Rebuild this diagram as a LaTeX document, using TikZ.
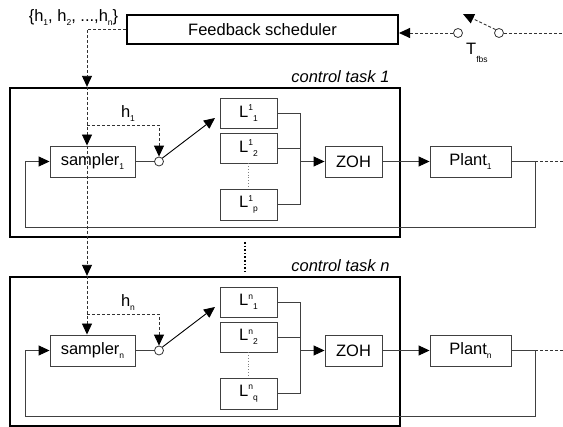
\documentclass[tikz,border=0pt]{standalone}
\usepackage{fontspec}
\setmainfont{Liberation Sans}
\usetikzlibrary{arrows.meta,calc}
\newcommand\lsub[1]{\raisebox{-4pt}{\fontsize{8.5}{8.5}\selectfont #1}}
\newcommand\Lbl[2]{L\raisebox{6.5pt}{\fontsize{8.5}{8.5}\selectfont #1}\raisebox{-4pt}{\fontsize{8.5}{8.5}\selectfont #2}}
\begin{document}
\begin{tikzpicture}[x=1pt,y=-1pt, font=\fontsize{16.5}{19}\selectfont,
  blk/.style={draw=black!75, line width=0.9pt, inner sep=0pt, minimum height=30pt},
  task/.style={draw=black, line width=2.3pt, inner sep=0pt},
  ln/.style={draw=black!75, line width=0.9pt},
  dsh/.style={draw=black!80, line width=0.9pt, dash pattern=on 3pt off 2pt},
  arr/.style={-{Triangle[length=11pt,width=10pt,color=black]}},
  sw/.style={circle, draw=black!80, line width=0.8pt, fill=white, minimum size=9pt, inner sep=0pt}]
\useasboundingbox (0,0) rectangle (563,427);

% scheduler
\node[draw, line width=2pt, minimum width=271pt, minimum height=29pt, inner sep=0pt] (fs) at (262.5,29.5) {Feedback scheduler};
\node (hs) at (73.5,18) {\{h\lsub{1}, h\lsub{2}, ...,h\lsub{n}\}};

% task boxes
\node[task, minimum width=390pt, minimum height=149pt] (t1) at (205,162.5) {};
\node[task, minimum width=390pt, minimum height=149pt] (tn) at (205,351.5) {};

\foreach \k/\dy/\lab/\last in {1/0/1/p, n/189/n/q} {
  \node[anchor=base east, font=\fontsize{16.5}{19}\selectfont\itshape] (ct\k) at (393,{83+\dy}) {control task \lab};
  \node[blk, minimum width=85pt, minimum height=31pt] (s\k) at (92.5,{161.5+\dy}) {sampler\lsub{\lab}};
  \node[blk, minimum width=57pt] (La\k) at (248.5,{113+\dy}) {\Lbl{\lab}{1}};
  \node[blk, minimum width=57pt] (Lb\k) at (248.5,{148+\dy}) {\Lbl{\lab}{2}};
  \node[blk, minimum width=57pt, minimum height=31pt] (Lc\k) at (248.5,{204.5+\dy}) {\Lbl{\lab}{\last}};
  \node[blk, minimum width=57pt, minimum height=31pt] (z\k) at (353.5,{161.5+\dy}) {ZOH};
  \node[blk, minimum width=81pt, minimum height=31pt] (p\k) at (470.5,{161.5+\dy}) {Plant\lsub{\lab}};
  \node (h\k) at (128,{114+\dy}) {h\lsub{\lab}};
  \coordinate (bus\k) at (300,{161.5+\dy});
  \coordinate (o\k) at (535,{161.5+\dy});
  \coordinate (e\k) at (563,{161.5+\dy});
  \coordinate (fb\k) at (25,{227+\dy});
  \coordinate (a\k) at (215,{118+\dy});
  \coordinate (br\k) at (87,{125+\dy});
  \draw[ln] (s\k.east) -- (159,{161.5+\dy});
  \node[sw] (c\k) at (159,{161.5+\dy}) {};
  \draw[ln, draw=black, arr] (c\k.north east) -- (a\k);
  \draw[ln] (La\k.east) -| (Lc\k.east -| bus\k) -- (Lc\k.east);
  \draw[ln] (Lb\k.east) -- (Lb\k.east -| bus\k);
  \draw[dotted, draw=gray, line width=0.8pt] (Lb\k.south) -- (Lc\k.north);
  \draw[ln, arr] (bus\k) -- (z\k.west);
  \draw[ln, arr] (z\k.east) -- (p\k.west);
  \draw[ln] (p\k.east) -- (o\k);
  \draw[dsh] (o\k) -- (e\k);
  \draw[ln, arr] (o\k) |- (fb\k) |- (s\k.west);
  \draw[dsh, arr] (br\k) -| (c\k.north);
}

% main dashed distribution line
\coordinate (dx) at (87,0);
\draw[dsh, arr] (fs.west) -| (t1.north -| dx);
\draw[dsh, arr] (t1.north -| dx) -- (s1.north -| dx);
\draw[dsh, arr] (s1.north -| dx) -- (tn.north -| dx);
\draw[dsh, arr] (tn.north -| dx) -- (sn.north -| dx);

% dotted between tasks
\coordinate (d1) at (245,242);
\coordinate (d2) at (245,273);
\draw[dotted, line width=1.6pt] (d1) -- (d2);

% switch T_fbs
\node[sw] (sa) at (458,33) {};
\node[sw] (sb) at (499,33) {};
\coordinate (tipT) at (463,14);
\coordinate (ein) at (563,33);
\draw[dsh, arr] (sa.west) -- (sa.west -| fs.east);
\draw[dsh] (sb.east) -- (ein);
\draw[dsh, arr] (sb.north west) -- (tipT);
\node[anchor=base west, inner sep=0pt] (tf) at (466,55) {T\raisebox{-8pt}{\fontsize{8.5}{8.5}\selectfont fbs}};
\end{tikzpicture}
\end{document}
